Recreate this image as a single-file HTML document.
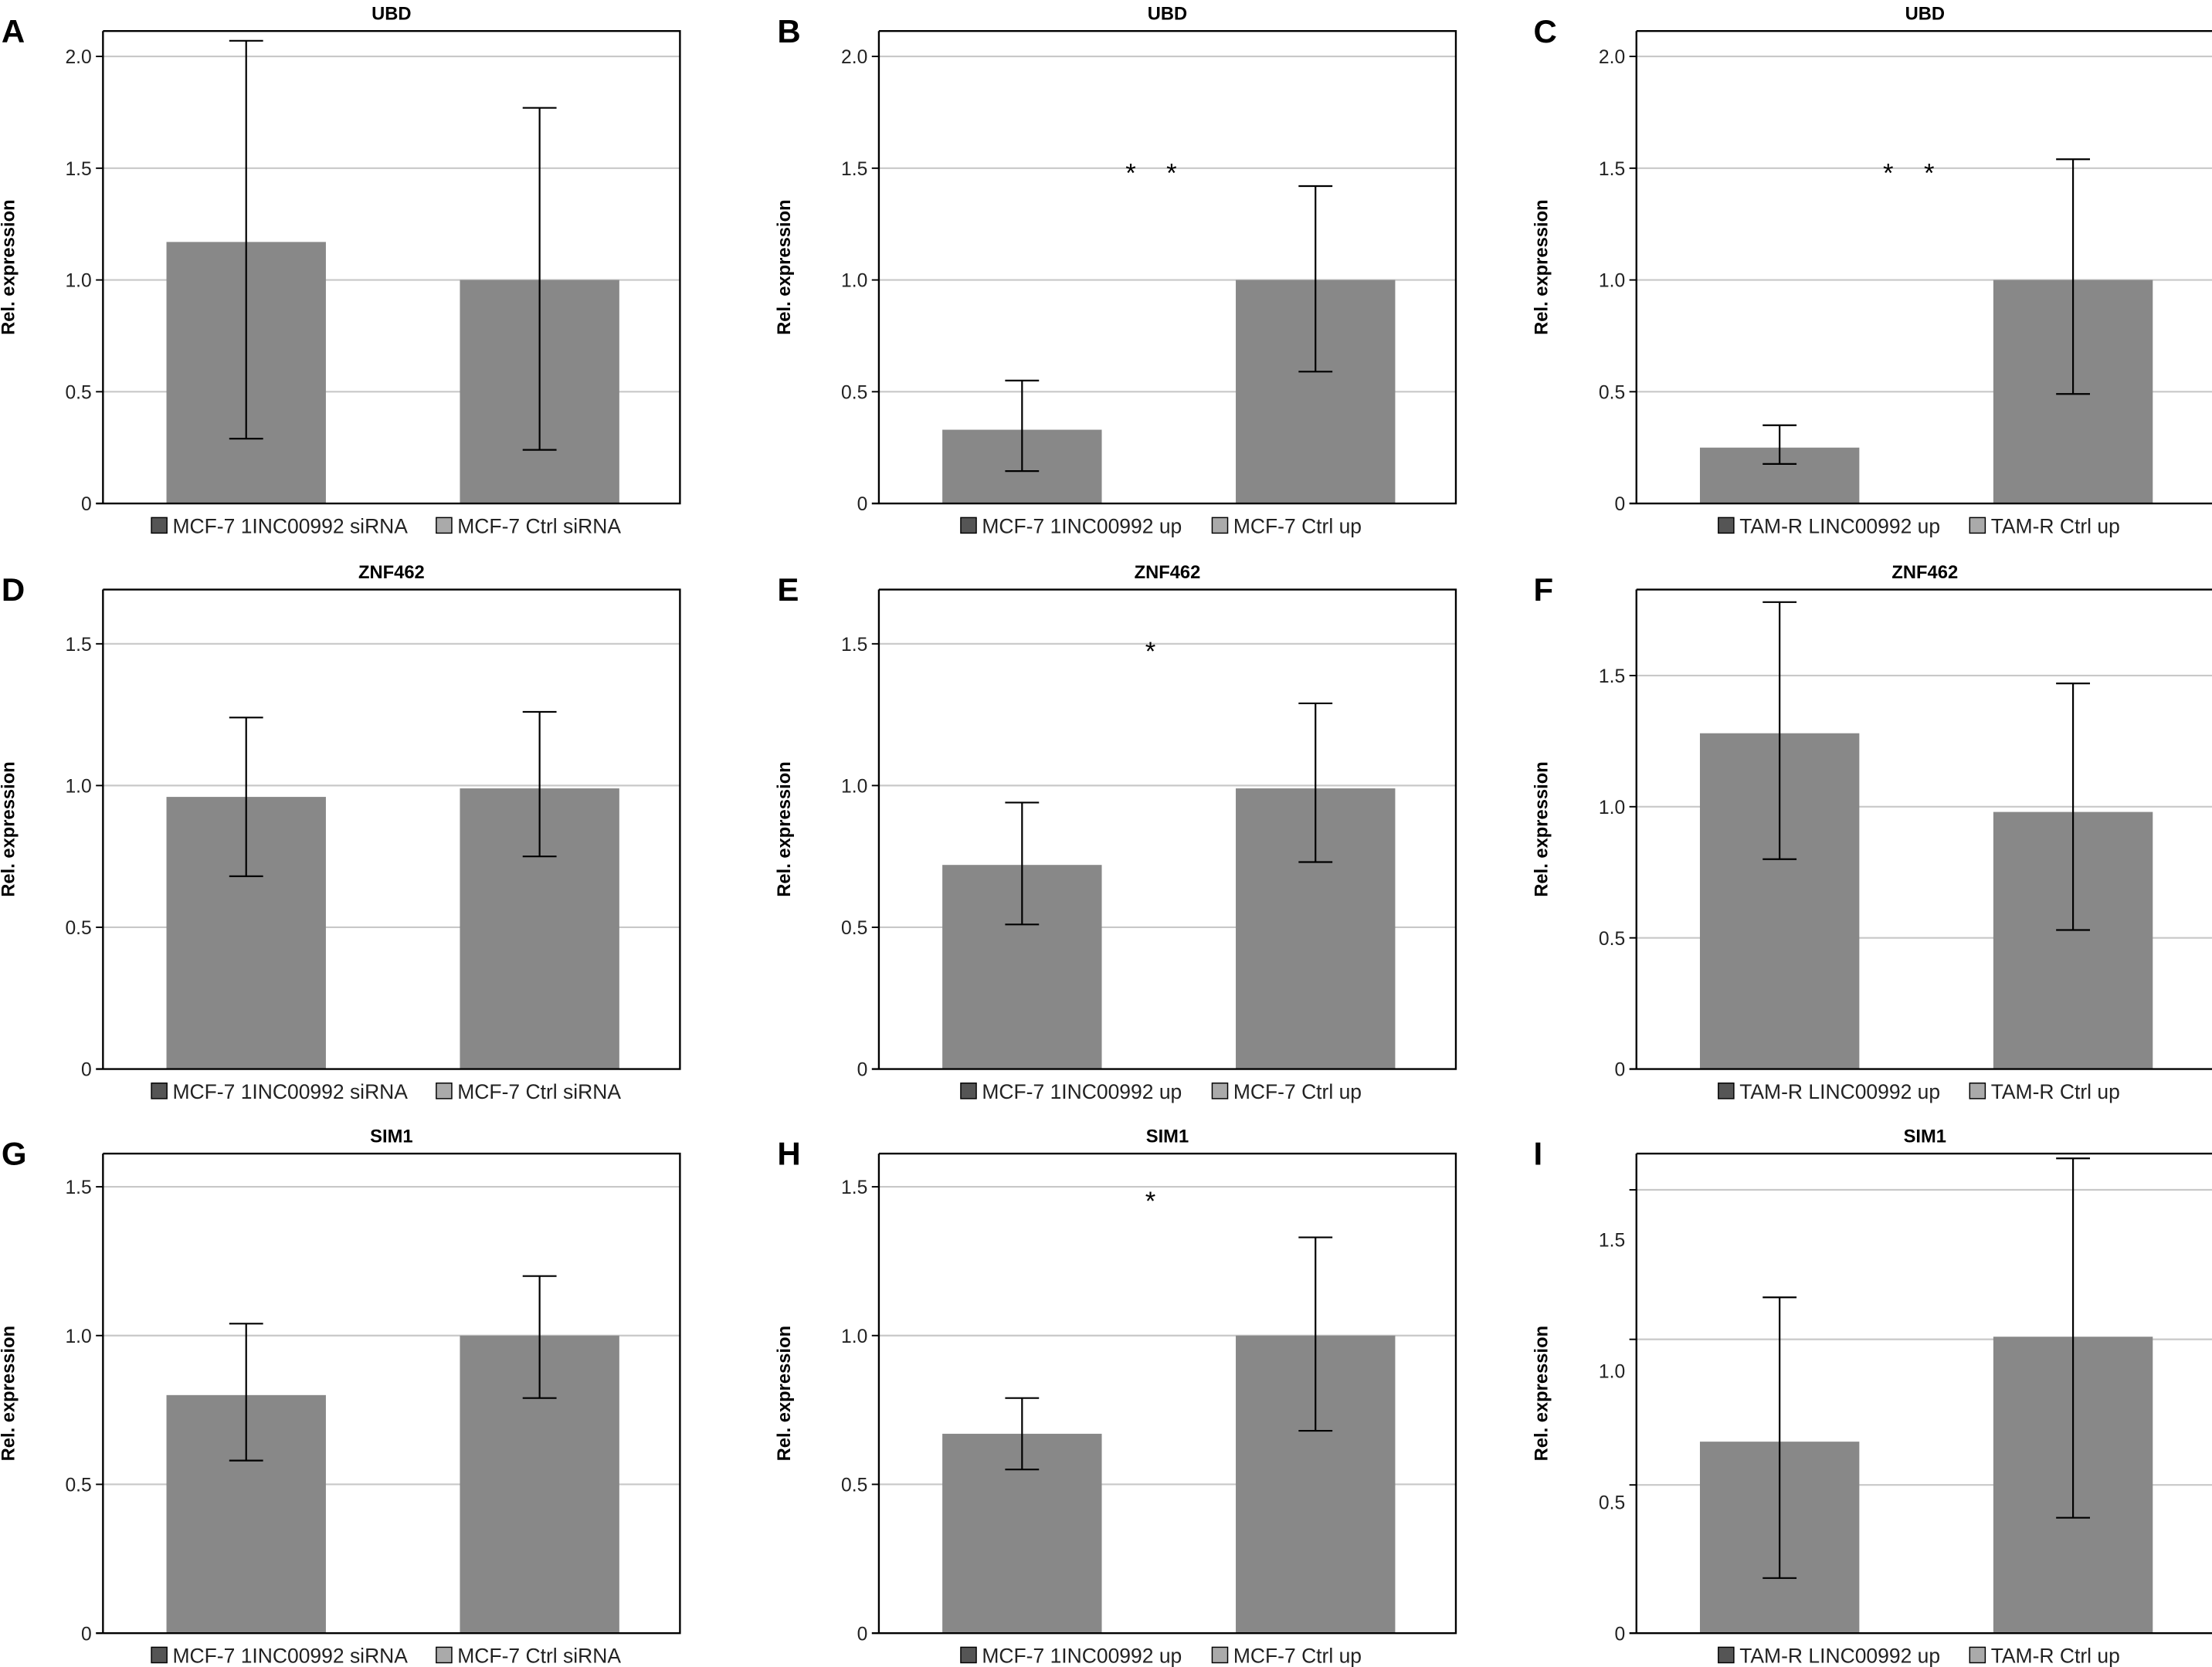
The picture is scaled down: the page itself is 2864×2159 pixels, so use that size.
<!DOCTYPE html>
<html><head><meta charset="utf-8"><style>
html,body{margin:0;padding:0;background:#fff;}
svg{display:block;font-family:"Liberation Sans","DejaVu Sans",sans-serif;}
</style></head><body>
<svg id="fig" width="2864" height="2159" viewBox="0 0 1568 1182" xmlns="http://www.w3.org/2000/svg"></svg>
<script>
const panelLetters = ["A","B","C","D","E","F","G","H","I"];
const panelTitles = ["UBD","UBD","UBD","ZNF462","ZNF462","ZNF462","SIM1","SIM1","SIM1"];
const barValues = [[1.17,1.0],[0.33,1.0],[0.25,1.0],[0.96,0.99],[0.72,0.99],[1.28,0.98],[0.80,1.0],[0.67,1.0],[0.73,1.13]];
const errHigh = [[2.07,1.77],[0.55,1.42],[0.35,1.54],[1.24,1.26],[0.94,1.29],[1.78,1.47],[1.04,1.20],[0.79,1.33],[1.28,1.81]];
const errLow = [[0.29,0.24],[0.145,0.59],[0.177,0.49],[0.68,0.75],[0.51,0.73],[0.80,0.53],[0.58,0.79],[0.55,0.68],[0.21,0.44]];
const tickLabels = [["0","0.5","1.0","1.5","2.0"],["0","0.5","1.0","1.5","2.0"],["0","0.5","1.0","1.5","2.0"],
  ["0","0.5","1.0","1.5"],["0","0.5","1.0","1.5"],["0","0.5","1.0","1.5"],
  ["0","0.5","1.0","1.5"],["0","0.5","1.0","1.5"],["0","0.5","1.0","1.5"]];
const gridValues = [[0.5,1,1.5,2],[0.5,1,1.5,2],[0.5,1,1.5,2],[0.5,1,1.5],[0.5,1,1.5],[0.5,1,1.5],[0.5,1,1.5],[0.5,1,1.5],[0.565,1.12,1.69]];
const starCounts = [0,2,2,0,1,0,0,1,0];
const legendA = ["MCF-7 1INC00992 siRNA","MCF-7 1INC00992 up","TAM-R LINC00992 up"];
const legendB = ["MCF-7 Ctrl siRNA","MCF-7 Ctrl up","TAM-R Ctrl up"];

const NS="http://www.w3.org/2000/svg";
const svg=document.getElementById('fig');
function mk(tag,attrs,parent,text){const e=document.createElementNS(NS,tag);for(const k in attrs)e.setAttribute(k,attrs[k]);if(text!==undefined)e.textContent=text;(parent||svg).appendChild(e);return e;}

const colLeft=[73,623,1160], boxW=409;
const rowTop=[22,418,818], rowBase=[357,758,1158];
const unitPx=[158.5,158.5,158.5,201,201,186,211,211,186];
const letterX=[1,551,1087];

for(let p=0;p<9;p++){
  const r=Math.floor(p/3), c=p%3;
  const L=colLeft[c], R=L+boxW, T=rowTop[r], B=rowBase[r];
  const yS=v=>B-v*unitPx[p];
  const xS=i=>L+45+i*208;
  const g=mk('g',{});
  
  
  const lt=mk('text',{x:letterX[c],y:T+8,'font-size':23,'font-weight':'bold'},g,panelLetters[p]);
  
  const tt=mk('text',{x:(L+R)/2,y:T-8,'font-size':13,'font-weight':'bold','text-anchor':'middle'},g,panelTitles[p]);
  
  gridValues[p].forEach(v=>{
    const gl=mk('line',{x1:L-5,x2:R,y1:yS(v),y2:yS(v),stroke:'#c8c8c8','stroke-width':1.2},g);
    
    mk('line',{x1:L-5,x2:L,y1:yS(v),y2:yS(v),stroke:'#000','stroke-width':1},g);
  });
  tickLabels[p].forEach(s=>{
    const v=parseFloat(s);
    const tl=mk('text',{x:L-8,y:yS(v)+5,'font-size':13.5,'text-anchor':'end',fill:'#222'},g,s);
    
  });
  const yt=mk('text',{transform:`translate(${L-63},${(T+B)/2}) rotate(-90)`,'font-size':13,'font-weight':'bold','text-anchor':'middle'},g,'Rel. expression');
  
  for(let i=0;i<2;i++){
    const x=xS(i), v=barValues[p][i];
    const b=mk('rect',{x:x,y:yS(v),width:113,height:B-yS(v),fill:'#888'},g);
    
    const cx=x+56.5, hi=yS(errHigh[p][i]), lo=yS(errLow[p][i]);
    const eb=mk('path',{d:`M${cx},${hi}V${lo}M${cx-12},${hi}H${cx+12}M${cx-12},${lo}H${cx+12}`,stroke:'#000','stroke-width':1.2,fill:'none'},g);
    
  }
  const bx=mk('path',{d:`M${L},${T}H${R}V${B}H${L-5}M${L},${B}V${T}`,fill:'none',stroke:'#000','stroke-width':1.3},g);
  
  const mid=(L+R)/2;
  const sy=T+(r===0?107:r===1?50:40);
  if(starCounts[p]===2){
    [mid-26,mid+3].forEach(sx=>{
      const st=mk('text',{x:sx,y:sy,'font-size':19,'text-anchor':'middle'},g,'*');
      
    });
  } else if(starCounts[p]===1){
    const st=mk('text',{x:mid-12,y:sy,'font-size':19,'text-anchor':'middle'},g,'*');
    
  }
  const ly=B+21;
  const la=legendA[c], lb=legendB[c];
  const wA=la.length*7.9, wB=lb.length*7.9, gap=24;
  const total=12+wA+gap+12+wB;
  let lx=mid-total/2;
  const s1=mk('rect',{x:lx,y:ly-11,width:11,height:11,fill:'#555',stroke:'#000','stroke-width':0.8},g);
  
  const t1=mk('text',{x:lx+15,y:ly,'font-size':14.5,fill:'#222'},g,la);
  
  lx+=12+wA+gap;
  const s2=mk('rect',{x:lx,y:ly-11,width:11,height:11,fill:'#aaa',stroke:'#000','stroke-width':0.8},g);
  
  const t2=mk('text',{x:lx+15,y:ly,'font-size':14.5,fill:'#222'},g,lb);
  
}
</script>
</body></html>
